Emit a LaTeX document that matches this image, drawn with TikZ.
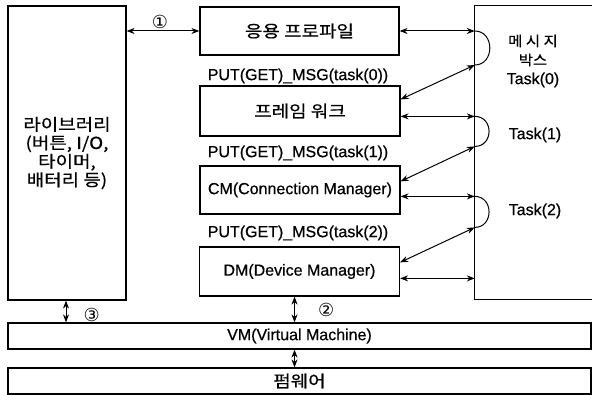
\documentclass[tikz,border=0pt]{standalone}
\usepackage{fontspec}
\setmainfont[FakeBold=0.6]{Liberation Sans}
\newfontfamily\kr[FakeStretch=1.15, FakeBold=0.6]{Noto Sans CJK KR}
\newfontfamily\krs[FakeStretch=1.1, FakeBold=0.6, LetterSpace=25]{Noto Sans CJK KR}
\newfontfamily\krb[FakeStretch=1.1, FakeBold=0.6]{Noto Sans CJK KR}
\newfontfamily\dv{DejaVu Sans}
\usetikzlibrary{arrows.meta, calc}

\begin{document}
\begin{tikzpicture}[x=1pt, y=-1pt, font=\fontsize{16}{19}\selectfont,
    blk/.style={draw, line width=1.2pt, inner sep=0pt, align=center},
    krt/.style={font=\kr\fontsize{16.5}{18.5}\selectfont},
    num/.style={font=\dv\fontsize{18}{18}\selectfont, inner sep=1pt},
    dbl/.style={{Stealth[length=8pt,width=6pt]}-{Stealth[length=8pt,width=6pt]}, line width=1pt},
    hook/.style={line width=1pt}]
    \useasboundingbox (0,0) rectangle (592,395);

    % left and right blocks
    \node[blk, krt, minimum width=118, minimum height=294] (lib) at (67,153)
        {라이브러리\\(버튼, I/O,\\타이머,\\배터리 등)};
    \node[minimum width=117, minimum height=293, inner sep=0pt] (msg) at (533.5,152.5) {};
    \draw[line width=1.2pt] (msg.north east) -| (msg.south west) -- (msg.south east);
    \node[align=center] (mtxt) at (533,61) {{\krs\fontsize{14}{19}\selectfont 메시지}\\{\krb\fontsize{14}{19}\selectfont 박스}\\Task(0)};
    \node (task1) at (535,135) {Task(1)};
    \node (task2) at (535,211) {Task(2)};

    % middle blocks
    \node[blk, krt, minimum width=199, minimum height=48] (app) at (299.5,31) {응용 프로파일};
    \node[blk, krt, minimum width=200, minimum height=50] (frame) at (300,111) {프레임 워크};
    \node[blk, minimum width=200, minimum height=48] (cm) at (300,190) {CM(Connection Manager)};
    \node[blk, minimum width=200, minimum height=49] (dm) at (299.5,271.5) {DM(Device Manager)};
    \node (put0) at (298,76) {PUT(GET)\_MSG(task(0))};
    \node (put1) at (298,153) {PUT(GET)\_MSG(task(1))};
    \node (put2) at (298,233) {PUT(GET)\_MSG(task(2))};

    % bottom layers
    \node[blk, minimum width=583, minimum height=26] (vm) at (299.5,336) {VM(Virtual Machine)};
    \node[blk, krt, minimum width=583, minimum height=26] (firm) at (299.5,381) {펌웨어};

    % points on the message box
    \coordinate (m0) at (msg.west |- app.east);
    \coordinate (m1) at ($(m0)+(0,34)$);
    \coordinate (f0) at ($(frame.north east)+(0,14)$);
    \coordinate (f1) at ($(frame.north east)+(0,31)$);
    \coordinate (m2) at (msg.west |- f1);
    \coordinate (m3) at ($(m2)+(0,30)$);
    \coordinate (c0) at ($(cm.north east)+(0,16)$);
    \coordinate (c1) at ($(cm.north east)+(0,31)$);
    \coordinate (m4) at (msg.west |- c1);
    \coordinate (m5) at ($(m4)+(0,31)$);
    \coordinate (d0) at ($(dm.north east)+(0,16)$);
    \coordinate (d1) at ($(dm.north east)+(0,32)$);
    \coordinate (d2) at ($(dm.south)+(-5,0)$);

    \draw[dbl] (lib.east |- app.west) -- (app.west) node[midway, above=1pt, num, xshift=-3pt] (n1) {①};
    \draw[dbl] (app.east) -- (m0);
    \draw[hook] (m0) .. controls +(20,0) and +(20,0) .. (m1);
    \draw[dbl] (f0) -- (m1);
    \draw[dbl] (f1) -- (m2);
    \draw[hook] (m2) .. controls +(19,0) and +(19,0) .. (m3);
    \draw[dbl] (c0) -- (m3);
    \draw[dbl] (c1) -- (m4);
    \draw[hook] (m4) .. controls +(19,0) and +(19,0) .. (m5);
    \draw[dbl] (d0) -- (m5);
    \draw[dbl] (d1) -- (d1 -| msg.west);

    % vertical links
    \draw[dbl] (d2) -- (d2 |- vm.north) node[midway, right=22pt, num] (n2) {②};
    \draw[dbl] ($(vm.south -| d2)$) -- (firm.north -| d2);
    \draw[dbl] ($(lib.south)+(-1,0)$) -- ($(lib.south |- vm.north)+(-1,0)$) node[midway, right=16pt, num, yshift=-3pt] (n3) {③};
\end{tikzpicture}
\end{document}
